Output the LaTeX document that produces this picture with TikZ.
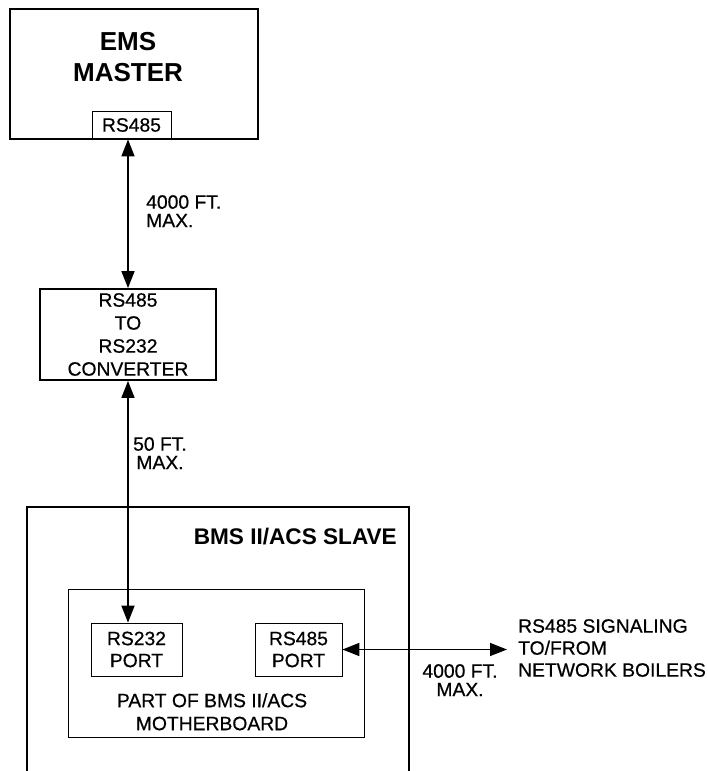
\documentclass[tikz,border=0pt]{standalone}
\usepackage{fontspec}
\setmainfont{Liberation Sans}
\newfontfamily\heavyfont{Liberation Sans}[FakeBold=0.6]
\usepackage{tikz}
\usetikzlibrary{positioning,arrows.meta}

\begin{document}
\begin{tikzpicture}[x=1pt, y=-1pt,
    box/.style={rectangle, draw, line width=1.8pt, inner sep=0pt},
    port/.style={rectangle, draw, line width=0.8pt, inner sep=0pt, font=\heavyfont\fontsize{19.3}{22}\selectfont, align=center},
    txt/.style={inner sep=0pt, font=\heavyfont\fontsize{19.3}{18.5}\selectfont},
    link/.style={line width=1.6pt, {Triangle[length=17pt,width=13pt]}-{Triangle[length=17pt,width=13pt]}}]
    \useasboundingbox (0,0) rectangle (708,771);

    % EMS master
    \node[box, minimum width=248pt, minimum height=130pt] (ems) at (134,74) {};
    \node[inner sep=0pt, font=\bfseries\fontsize{26}{31}\selectfont, align=center, anchor=north] (emstitle) at (128,32) {EMS\\MASTER};
    \node[port, minimum width=79pt, minimum height=28pt] (emsport) at (131.5,125) {RS485};

    % converter
    \node[box, minimum width=176pt, minimum height=91pt, font=\heavyfont\fontsize{19.3}{23}\selectfont, align=center] (conv) at (128,334.5) {RS485\\TO\\RS232\\CONVERTER};

    % slave
    \draw[line width=1.8pt] (27,771) -- (27,507) -- (409,507) -- (409,771);
    \node[inner sep=0pt, font=\bfseries\fontsize{22.6}{23}\selectfont, anchor=north east] (slave) at (397,528) {BMS II/ACS SLAVE};
    \node[rectangle, draw, line width=0.8pt, minimum width=296pt, minimum height=148pt] (mboard) at (216,663) {};
    \node[port, minimum width=91pt, minimum height=53pt] (p232) at (136.5,649.5) {RS232\\PORT};
    \node[port, minimum width=87pt, minimum height=53pt] (p485) at (298.5,649.5) {RS485\\PORT};
    \node[txt, font=\heavyfont\fontsize{19.3}{23}\selectfont, align=center, anchor=north] (mbtext) at (212,693) {PART OF BMS II/ACS\\MOTHERBOARD};

    % links
    \coordinate (net) at (507,649.5);
    \draw[link] (emsport.south -| conv.north) -- (conv.north);
    \draw[link] (conv.south) -- (conv.south |- p232.north);
    \draw[link] (p485.east) -- (net);

    % labels
    \node[txt, align=left, anchor=north west] (len1) at (146,195) {4000 FT.\\MAX.};
    \node[txt, align=center, anchor=north] (len2) at (160,437) {50 FT.\\MAX.};
    \node[txt, align=center, anchor=north] (len3) at (460,664) {4000 FT.\\MAX.};
    \node[txt, font=\heavyfont\fontsize{19.3}{22}\selectfont, align=left, anchor=north west] (netlbl) at (518,619) {RS485 SIGNALING\\TO/FROM\\NETWORK BOILERS};
\end{tikzpicture}
\end{document}
